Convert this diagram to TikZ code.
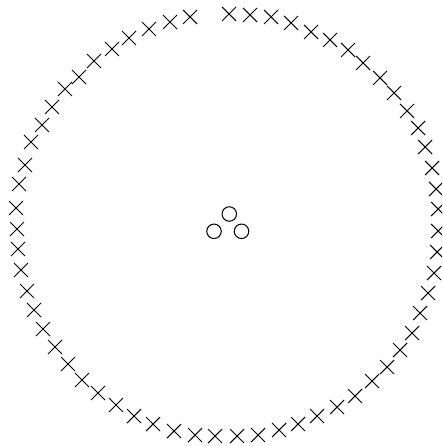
\documentclass[tikz,border=0pt]{standalone}
\usetikzlibrary{shapes.misc}
\begin{document}
\begin{tikzpicture}[x=1pt,y=-1pt,
  mk/.style={cross out,draw=black,line width=1.05pt,minimum size=14pt,inner sep=0pt,outer sep=0pt},
  ring/.style={circle,draw=black,line width=1.05pt,minimum size=14.5pt,inner sep=0pt}]
\useasboundingbox (0,0) rectangle (442,446);
\clip (0,0) rectangle (442,446);
\foreach \x/\y [count=\i] in {190/17,170/22,149/29,129/38,112/49,94/61,79/77,65/89,52/107,42/125,31/142,25/165,19/184,16/208,17/229,18/249,21/270,27/291,34/310,43/329,55/347,68/364,82/380,98/393,116/405,134/416,153/424,174/431,195/435,215/436,237/436,258/435,279/430,298/424,317/416,337/407,355/396,372/381,387/367,400/350,412/333,420/313,428/293,434/273,437/252,438/231,438/209,436/189,432/168,425/147,418/128,407/111,394/93,380/78,363/63,348/50,330/40,311/32,291/23,271/17,250/15,229/14}
  \node[mk] (c\i) at (\x,\y) {};
\node[ring] (o1) at (229.3,214) {};
\node[ring] (o2) at (214,231.3) {};
\node[ring] (o3) at (241.5,231.3) {};
\end{tikzpicture}
\end{document}
